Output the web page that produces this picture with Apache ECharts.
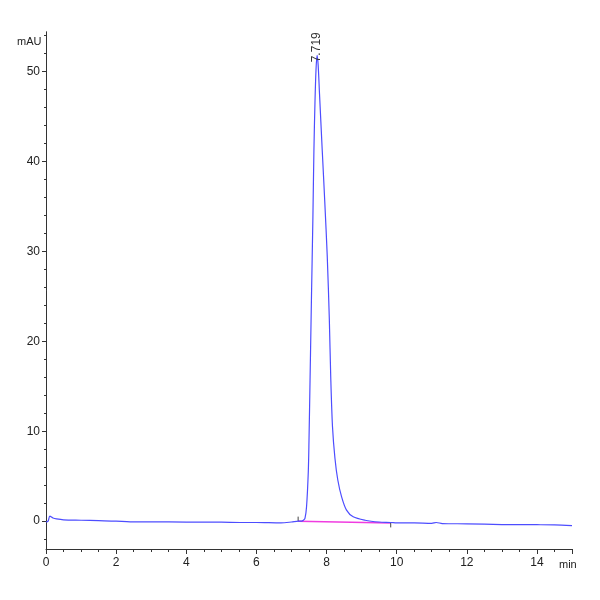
<!DOCTYPE html>
<html>
<head>
<meta charset="utf-8">
<title>Chromatogram</title>
<script src="https://cdn.jsdelivr.net/npm/echarts@6/dist/echarts.min.js"></script>
<style>
  html, body { margin: 0; padding: 0; background: #fff; }
  #chart { width: 600px; height: 600px; }
</style>
</head>
<body>
<div id="chart"></div>
<script>
// retention time (min) and signal (mAU)
const times = [
  0.0, 0.06, 0.11, 0.2, 0.3, 0.5, 1.0, 1.5, 2.0, 2.4, 3.0, 4.0, 5.0, 5.6, 6.0, 6.7, 7.0, 7.2,
  7.29, 7.34, 7.385, 7.43, 7.48, 7.5, 7.53, 7.57, 7.61, 7.64, 7.67, 7.7, 7.73,
  7.76, 7.8, 7.878, 7.95, 8.02, 8.08, 8.12, 8.17, 8.24, 8.32, 8.43, 8.57, 8.76, 9.1,
  9.5, 9.83, 10.0, 10.5, 11.0, 11.13, 11.3, 12.0, 13.0, 14.0, 14.5, 15.0
];
const signal = [
  -0.1, 0.0, 0.55, 0.35, 0.25, 0.15, 0.1, 0.05, 0.0, -0.08, -0.08, -0.1, -0.12, -0.15, -0.15, -0.2, -0.1, 0.0,
  0.0, 0.1, 0.3, 1.6, 5.5, 9.0, 15.7, 24.8, 33.5, 41.2, 46.5, 50.2, 51.8,
  50.8, 47.5, 41.2, 35.5, 29.5, 22.4, 16.0, 10.5, 7.0, 4.6, 2.7, 1.22, 0.48, 0.1,
  -0.1, -0.15, -0.2, -0.2, -0.25, -0.15, -0.27, -0.3, -0.38, -0.4, -0.42, -0.5
];

// integration baseline drawn under the peak
const baseTimes = [7.19, 9.83];
const baseValues = [0.0, -0.2];

// peak annotation
const peakTime = 7.719;
const peakLabel = "7.719";
const peakLabelY = 52.7;

// axes
const xTicks = [0, 2, 4, 6, 8, 10, 12, 14];
const yLabels = [0, 10, 20, 30, 40, 50];
const yMinor = [-2, 2, 4, 6, 8, 12, 14, 16, 18, 22, 24, 26, 28, 32, 34, 36, 38, 42, 44, 46, 48, 52, 54];

const FONT = "'Liberation Sans Narrow', 'Arial Narrow', 'Liberation Sans', sans-serif";
const AXIS_COLOR = "#333";

const traceData = times.map((t, i) => [t, signal[i]]);
const baseData = baseTimes.map((t, i) => [t, baseValues[i]]);

const chart = echarts.init(document.getElementById("chart"));

const yCommon = {
  type: "value",
  min: -3.1,
  max: 54.4,
  position: "left",
  splitLine: { show: false },
  axisLine: { show: true, onZero: false, lineStyle: { color: AXIS_COLOR, width: 1 } },
};

const option = {
  animation: false,
  backgroundColor: "#fff",
  grid: { left: 46, right: 28, top: 32, bottom: 51 },
  xAxis: {
    type: "value",
    min: 0,
    max: 15,
    interval: 2,
    splitLine: { show: false },
    axisLine: { onZero: false, lineStyle: { color: AXIS_COLOR, width: 1 } },
    axisTick: { show: true, length: 5, lineStyle: { color: AXIS_COLOR } },
    minorTick: { show: true, splitNumber: 4, length: 3, lineStyle: { color: AXIS_COLOR } },
    axisLabel: {
      margin: 8,
      fontFamily: FONT,
      fontSize: 12,
      color: "#222",
      customValues: xTicks,
    },
  },
  yAxis: [
    Object.assign({}, yCommon, {
      axisTick: { show: true, length: 4, customValues: yLabels, lineStyle: { color: AXIS_COLOR } },
      axisLabel: { margin: 6, fontFamily: FONT, fontSize: 12, color: "#222", customValues: yLabels },
    }),
    Object.assign({}, yCommon, {
      axisTick: { show: true, length: 2, customValues: yMinor, lineStyle: { color: AXIS_COLOR } },
      axisLabel: { show: false },
    }),
  ],
  graphic: [
    {
      type: "text",
      left: 17,
      top: 36,
      style: { text: "mAU", fontFamily: FONT, fontSize: 11, fill: "#222" },
    },
    {
      type: "text",
      left: 559,
      top: 559,
      style: { text: "min", fontFamily: FONT, fontSize: 11, fill: "#222" },
    },
  ],
  series: [
    {
      name: "baseline",
      type: "line",
      data: baseData,
      symbol: "none",
      lineStyle: { color: "#f03ce0", width: 1.5 },
      z: 2,
    },
    {
      name: "start",
      type: "line",
      data: [[baseTimes[0], baseValues[0]], [baseTimes[0], baseValues[0] + 0.5]],
      symbol: "none",
      lineStyle: { color: "#444", width: 1 },
      z: 3,
    },
    {
      name: "end",
      type: "line",
      data: [[baseTimes[1], baseValues[1]], [baseTimes[1], baseValues[1] - 0.5]],
      symbol: "none",
      lineStyle: { color: "#444", width: 1 },
      z: 3,
    },
    {
      name: "signal",
      type: "line",
      data: traceData,
      symbol: "none",
      smooth: 0.3,
      lineStyle: { color: "#4d4dff", width: 1.2 },
      z: 4,
      markPoint: {
        symbol: "circle",
        symbolSize: 0,
        data: [{ coord: [peakTime, peakLabelY], value: peakLabel }],
        label: {
          show: true,
          position: "inside",
          rotate: 90,
          formatter: peakLabel,
          fontFamily: FONT,
          fontSize: 12,
          color: "#333",
        },
      },
    },
  ],
};

chart.setOption(option);
</script>
</body>
</html>
